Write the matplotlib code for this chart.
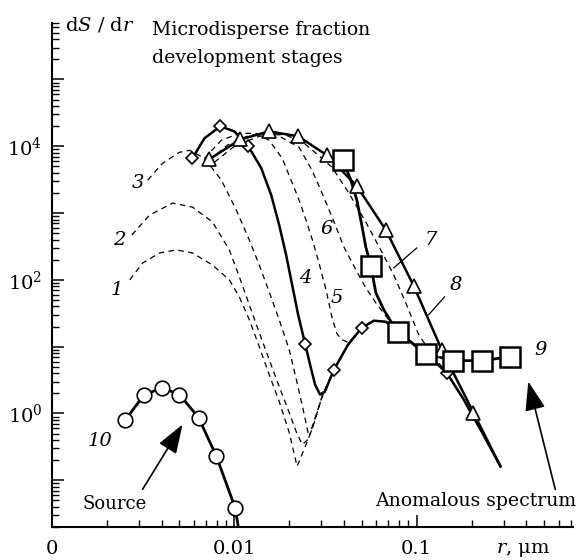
import numpy as np
import matplotlib.pyplot as plt
from matplotlib.ticker import LogLocator, NullFormatter

plt.rcParams['font.family'] = ['DejaVu Serif']
plt.rcParams['mathtext.fontset'] = 'dejavuserif'

# r in um, dS/dr in arbitrary units

# right-hand branch shared by the stages
TAIL_R = [0.0352, 0.0420, 0.0500, 0.0582, 0.0678, 0.0787, 0.0939, 0.112, 0.146, 0.181, 0.227, 0.288]
TAIL_S = [4.54, 10.7, 19.2, 24.5, 23.6, 16.7, 11.5, 7.87, 4.09, 1.62, 0.538, 0.162]

# stages 1-3 (dashed) until they meet the tail
R1 = [0.00267, 0.00314, 0.00389, 0.00482, 0.00589, 0.00759, 0.00939, 0.01065, 0.01208,
      0.0137, 0.01553, 0.01762, 0.0200, 0.02208, 0.02413, 0.02667, 0.03027]
S1 = [100, 179, 253, 281, 253, 167, 100, 55.7, 25.3, 10.0, 3.82, 1.51, 0.52, 0.162, 0.29, 0.577, 1.79]
R2 = [0.00274, 0.00343, 0.00458, 0.00589, 0.00759, 0.00939, 0.01065, 0.01208, 0.0137,
      0.01553, 0.01762, 0.0200, 0.02183, 0.02354, 0.02505, 0.02667, 0.03027]
S2 = [470, 933, 1410, 1230, 734, 281, 111, 42.4, 16.2, 6.4, 2.53, 1.03, 0.538, 0.344, 0.395, 0.577, 1.79]
R3 = [0.00335, 0.00404, 0.0050, 0.00568, 0.00686, 0.00849, 0.01025, 0.01208, 0.0137,
      0.01553, 0.01762, 0.0200, 0.02208, 0.02384, 0.02535, 0.02667, 0.03027]
S3 = [3110, 5570, 8130, 8710, 6620, 3110, 1110, 395, 167, 66.2, 25.3, 9.02, 2.90, 1.15, 0.52, 0.618, 1.79]

# stage 4 (solid, diamonds)
R4 = [0.00589, 0.00686, 0.00838, 0.0100, 0.01193, 0.01405, 0.01593, 0.01762, 0.01923,
      0.02075, 0.02238, 0.02443, 0.02603, 0.02772, 0.02951, 0.03141, 0.03304]
S4 = [6620, 13200, 19900, 16700, 10000, 4700, 1860, 662, 236, 84.1, 30.1, 11.1, 5.38, 2.71, 1.92, 2.13, 3.01]
D4_R = [0.00589, 0.00838, 0.01193, 0.02443, 0.03516, 0.0500, 0.146]
D4_S = [6620, 19900, 10000, 11.1, 4.54, 19.2, 4.09]

# stages 5-7 (dashed)
R5 = [0.00686, 0.00849, 0.01065, 0.01318, 0.01553, 0.01829, 0.02048, 0.02265, 0.02472,
      0.02703, 0.02912, 0.03184, 0.03434, 0.03656, 0.0389, 0.04246]
S5 = [6620, 12300, 15600, 15600, 12300, 6620, 3110, 1560, 787, 369, 179, 71, 27.1, 15.6, 12.7, 11.5]
R6 = [0.0073, 0.00915, 0.01208, 0.01655, 0.02265, 0.02667, 0.03027, 0.03434, 0.0399,
      0.04645, 0.0526, 0.0597, 0.0703]
S6 = [6180, 10400, 14600, 15600, 9660, 4380, 1990, 871, 311, 141, 76, 45.4, 25.3]
R7 = [0.00778, 0.0100, 0.0137, 0.01877, 0.02413, 0.02805, 0.03434, 0.04246, 0.0526,
      0.0644, 0.0748, 0.0871, 0.1026, 0.1239, 0.146]
S7 = [5770, 10000, 14100, 15100, 11100, 7870, 4860, 1990, 734, 262, 119, 45.4, 15.1, 7.1, 4.09]

# stage 8 (triangles)
R8 = [0.0073, 0.01079, 0.01553, 0.02238, 0.0322, 0.047, 0.06775, 0.09635, 0.1371, 0.2048, 0.288]
S8 = [6400, 12700, 16700, 14100, 7340, 2530, 557, 81.3, 9.02, 1.03, 0.162]

# stage 9 (squares, anomalous spectrum)
R9 = [0.03945, 0.04355, 0.047, 0.0500, 0.0526, 0.0561, 0.0597, 0.06607, 0.07295, 0.0787,
      0.112, 0.1592, 0.2294, 0.3266]
S9 = [6180, 3110, 1560, 662, 311, 162, 64, 35.6, 22.8, 16.7, 7.87, 6.18, 6.18, 7.1]
SQ_IDX = [0, 5, 9, 10, 11, 12, 13]

# 10: source (circles)
R10 = [0.00251, 0.00318, 0.00399, 0.0050, 0.00636, 0.00798, 0.01012, 0.0108]
S10 = [0.787, 1.86, 2.44, 1.92, 0.871, 0.228, 0.0382, 0.0127]


def main():
    fig = plt.figure(figsize=(5.81, 5.60), dpi=100)
    ax = fig.add_axes([52 / 581, 33 / 560, 521 / 581, 504 / 560])
    ax.set_xscale('log')
    ax.set_yscale('log')
    ax.set_xlim(0.001, 0.72)
    ax.set_ylim(0.02, 7e5)

    dash = dict(color='k', lw=0.9, ls=(0, (4.5, 3.5)), zorder=2)
    for r, s in ((R1, S1), (R2, S2), (R3, S3)):
        ax.plot(r + TAIL_R, s + TAIL_S, **dash)
    ax.plot(R5 + TAIL_R[2:], S5 + TAIL_S[2:], **dash)
    ax.plot(R6 + TAIL_R[5:], S6 + TAIL_S[5:], **dash)
    ax.plot(R7 + TAIL_R[9:], S7 + TAIL_S[9:], **dash)

    ax.plot(R4 + TAIL_R, S4 + TAIL_S, color='k', lw=1.8, zorder=3)
    ax.plot(D4_R, D4_S, ls='none', marker='D', ms=6.5, mfc='white', mec='k', mew=1.2, zorder=5)

    ax.plot(R8, S8, color='k', lw=1.8, zorder=3)
    ax.plot(R8[:-1], S8[:-1], ls='none', marker='^', ms=10, mfc='white', mec='k', mew=1.2, zorder=5)

    ax.plot(R9, S9, color='k', lw=2.0, zorder=4)
    ax.plot([R9[i] for i in SQ_IDX], [S9[i] for i in SQ_IDX], ls='none', marker='s', ms=14,
            mfc='white', mec='k', mew=1.8, zorder=6)

    ax.plot(R10, S10, color='k', lw=2.0, zorder=3)
    ax.plot(R10[:-1], S10[:-1], ls='none', marker='o', ms=10.5, mfc='white', mec='k', mew=1.2, zorder=5)

    # axes
    for side in ('top', 'right'):
        ax.spines[side].set_visible(False)
    for side in ('left', 'bottom'):
        ax.spines[side].set_linewidth(1.5)
    ax.set_xticks([0.001, 0.01, 0.1], ['0', '0.01', '0.1'])
    ax.xaxis.set_minor_locator(LogLocator(base=10, subs=np.arange(2, 10), numticks=20))
    ax.xaxis.set_minor_formatter(NullFormatter())
    yt = [0.1, 1, 10, 100, 1e3, 1e4, 1e5]
    ax.set_yticks(yt, ['', '$10^0$', '', '$10^2$', '', '$10^4$', ''])
    ax.yaxis.set_minor_locator(LogLocator(base=10, subs=np.arange(2, 10), numticks=20))
    ax.yaxis.set_minor_formatter(NullFormatter())
    ax.tick_params(which='major', direction='in', length=8.5, width=1.1, labelsize=14)
    ax.tick_params(which='minor', direction='in', length=5, width=1.0)
    ax.tick_params(axis='x', pad=9)
    ax.tick_params(axis='y', pad=7)

    # curve numbers
    num = dict(fontsize=14, style='italic', ha='center', va='center')
    for txt, x, y in (('1', 0.00226, 71), ('2', 0.00235, 395), ('3', 0.00295, 2800),
                      ('4', 0.02443, 107), ('5', 0.03656, 53.8), ('6', 0.0322, 577),
                      ('7', 0.1194, 395), ('8', 0.1633, 84.1), ('9', 0.4762, 9.02),
                      ('10', 0.00183, 0.382)):
        ax.text(x, y, txt, **num)
    ax.plot([0.0748, 0.100], [151, 300], color='k', lw=0.9)
    ax.plot([0.1164, 0.1422], [30.1, 55.7], color='k', lw=0.9)

    arrow = dict(arrowstyle='-|>,head_length=1.0,head_width=0.35', color='k', lw=1.2,
                 shrinkA=0, shrinkB=0, mutation_scale=18)
    ax.annotate('', xy=(0.0052, 0.686), xytext=(0.00314, 0.0734), arrowprops=arrow)
    ax.text(0.00221, 0.0438, 'Source', fontsize=13, ha='center', va='center')
    ax.annotate('', xy=(0.4093, 3.01), xytext=(0.5754, 0.0734), arrowprops=arrow,
                annotation_clip=False)
    ax.text(0.2101, 0.0486, 'Anomalous spectrum', fontsize=13.6, ha='center', va='center')

    fig.text(65 / 581, 1 - 25 / 560, r'd$S$ / d$r$', fontsize=14, va='center')
    fig.text(152 / 581, 1 - 30 / 560, 'Microdisperse fraction', fontsize=13.6, va='center')
    fig.text(152 / 581, 1 - 58 / 560, 'development stages', fontsize=13.6, va='center')
    fig.text(523 / 581, 1 - 550 / 560, r'$r$, μm', fontsize=14, ha='center', va='center')

    fig.savefig('out.png', dpi=100)
    plt.close(fig)


if __name__ == '__main__':
    main()
